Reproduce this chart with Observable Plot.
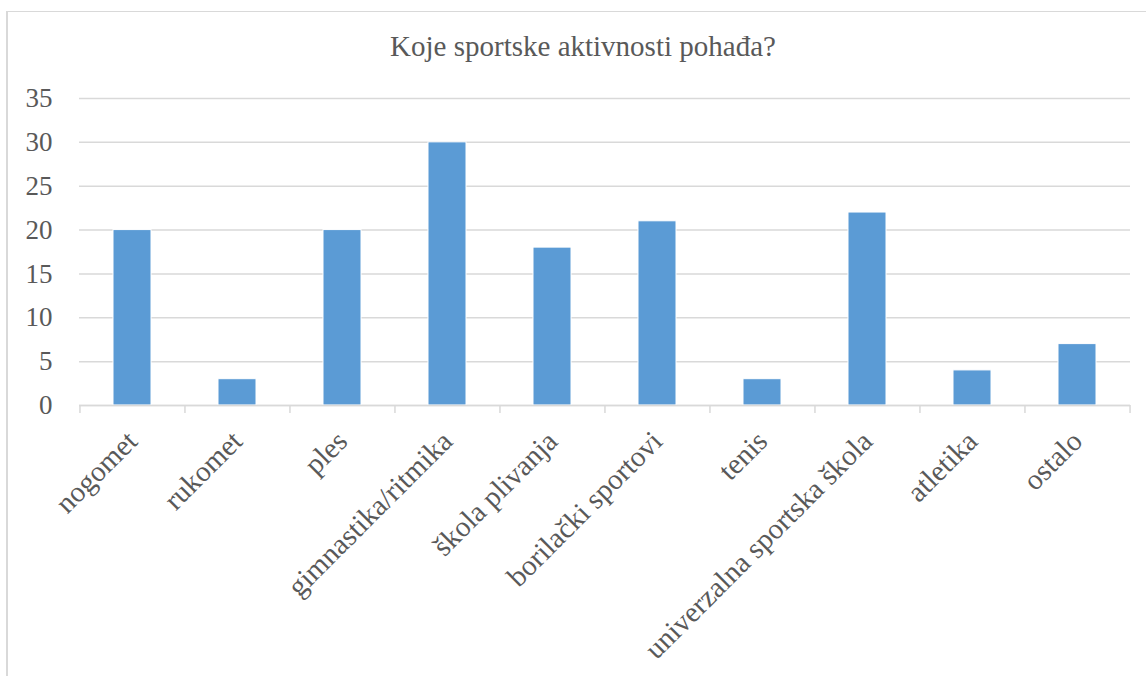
<!DOCTYPE html>
<html>
<head>
<meta charset="utf-8">
<script src="https://cdn.jsdelivr.net/npm/d3@7"></script>
<script src="https://cdn.jsdelivr.net/npm/@observablehq/plot@0.6"></script>
<style>
  html, body { margin: 0; padding: 0; background: #fff; }
  #wrap { position: relative; width: 1146px; height: 676px; overflow: hidden; }
  #frame { position: absolute; left: 6px; top: 11px; width: 1160px; height: 700px;
           border-left: 2px solid #d9d9d9; border-top: 1px solid #d9d9d9; box-sizing: border-box; }
  #title { position: absolute; left: 0; top: 30px; width: 1166px; text-align: center;
           font-family: "Liberation Serif", "Times New Roman", serif; font-size: 29px; color: #595959; }
  #chart { position: absolute; left: 0; top: 0; }
</style>
</head>
<body>
<div id="wrap">
  <div id="frame"></div>
  <div id="title">Koje sportske aktivnosti pohađa?</div>
  <div id="chart"></div>
</div>
<script>
const categories = ["nogomet", "rukomet", "ples", "gimnastika/ritmika", "škola plivanja",
  "borilački sportovi", "tenis", "univerzalna sportska škola", "atletika", "ostalo"];
const values = [20, 3, 20, 30, 18, 21, 3, 22, 4, 7];
const yTicks = [0, 5, 10, 15, 20, 25, 30, 35];

const data = categories.map((c, i) => ({category: c, value: values[i]}));

const W = 1146, H = 676, ML = 79, MR = 16, MT = 98, MB = 271;
const step = (W - ML - MR) / categories.length;
const pad = 0.638;

const chart = Plot.plot({
  width: W, height: H,
  marginLeft: ML, marginRight: MR, marginTop: MT, marginBottom: MB,
  style: {fontFamily: "'Liberation Serif', 'Times New Roman', serif", color: "#595959", background: "transparent"},
  x: {type: "band", domain: categories, paddingInner: pad, paddingOuter: pad / 2},
  y: {domain: [0, 35]},
  marks: [
    Plot.gridY(yTicks, {stroke: "#d9d9d9", strokeOpacity: 1, strokeWidth: 1.5}),
    Plot.barY(data, {x: "category", y: "value", fill: "#5b9bd5", stroke: "#fff", strokeWidth: 1}),
    Plot.ruleY([0], {stroke: "#d9d9d9", strokeWidth: 1.5}),
    Plot.ruleX(categories, {x: d => d, dx: -step / 2, y1: 0, y2: 0, insetBottom: -8, stroke: "#d9d9d9", strokeWidth: 1.5}),
    Plot.ruleX(categories.slice(-1), {x: d => d, dx: step / 2, y1: 0, y2: 0, insetBottom: -8, stroke: "#d9d9d9", strokeWidth: 1.5}),
    Plot.axisY(yTicks, {tickSize: 0, tickPadding: 27, fontSize: 27, fill: "#595959", label: null}),
    Plot.axisX({tickSize: 0, tickPadding: 31, tickRotate: -45, fontSize: 29, fill: "#595959", label: null})
  ]
});
document.getElementById("chart").appendChild(chart);
</script>
</body>
</html>
